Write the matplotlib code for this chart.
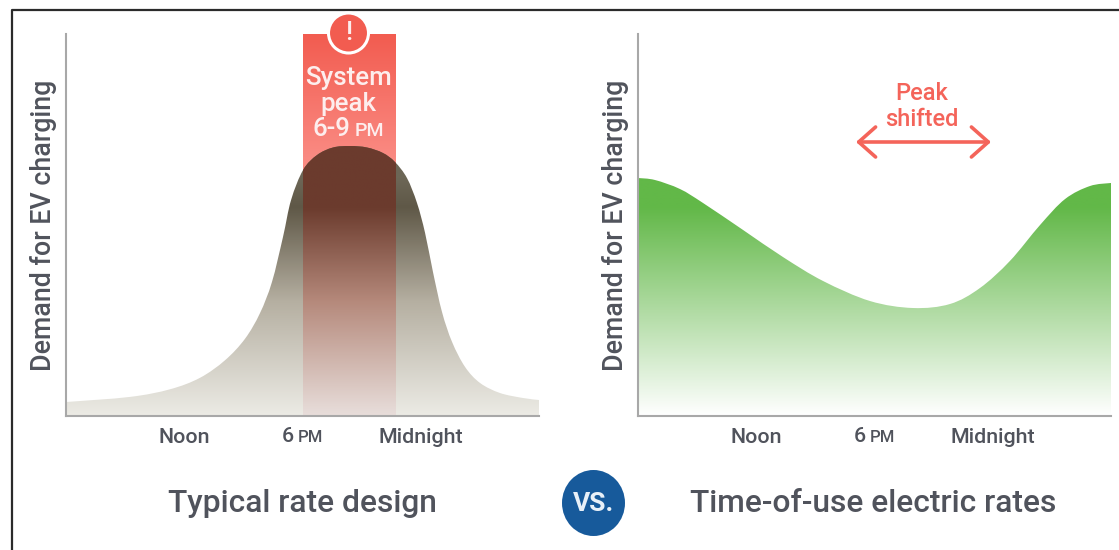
import numpy as np
import matplotlib
matplotlib.use("Agg")
import matplotlib.pyplot as plt
from matplotlib.path import Path
from matplotlib.patches import PathPatch, Circle, Ellipse, FancyArrowPatch
from matplotlib.colors import LinearSegmentedColormap

plt.rcParams['font.family'] = ['Roboto', 'DejaVu Sans']

# Hour of day (6 = 6 AM, 30 = 6 AM next day), demand (% of axis)
typical_hours = [6, 9.25, 11.28, 12.8, 14.07, 15.08, 15.84, 16.45, 17.01, 17.42, 18.03, 18.74, 19.55,
                 20.41, 21.27, 22.08, 22.69, 23.3, 23.81, 24.22, 24.62, 25.08, 25.59, 26.25, 27.01,
                 28.02, 29.19, 30]
typical_demand = [3.66, 5.0, 7.0, 10.0, 14.6, 20.2, 26.9, 35.08, 46.86, 56.54, 64.4, 68.32, 70.29,
                  70.68, 70.29, 68.85, 66.5, 62.3, 55.76, 47.9, 37.7, 27.2, 19.37, 12.83, 8.64,
                  6.02, 4.71, 4.19]
tou_hours = [6, 6.86, 8.13, 9.3, 11.33, 13.36, 15.39, 17.77, 19.95, 21.83, 23.35, 24.87, 26.4,
             27.67, 28.93, 30]
tou_demand = [62.3, 61.78, 59.42, 55.76, 48.7, 41.6, 35.34, 30.1, 28.27, 29.32, 33.5, 40.58, 50,
              56.8, 60.2, 61]
tick_hours = [12, 18, 24]
tick_labels = ["Noon", "6 PM", "Midnight"]
peak_start, peak_end = 18, 22.68
ylabel = "Demand for EV charging"
titles = ["Typical rate design", "Time-of-use electric rates"]

W, H = 1119, 550
TEXT = "#50535c"
fig = plt.figure(figsize=(W / 100, H / 100), dpi=100, facecolor="white")


def add_axes(l, r, t, b):
    return fig.add_axes([l / W, 1 - b / H, (r - l) / W, (b - t) / H])


def curve_path(xs, ys):
    """Smooth closed area through the read points (Catmull-Rom as Bezier segments)."""
    p = np.column_stack([xs, ys])
    verts = [p[0]]
    codes = [Path.MOVETO]
    for i in range(len(p) - 1):
        p0 = p[max(i - 1, 0)]
        p3 = p[min(i + 2, len(p) - 1)]
        verts += [p[i] + (p[i + 1] - p0) / 6, p[i + 1] - (p3 - p[i]) / 6, p[i + 1]]
        codes += [Path.CURVE4] * 3
    verts += [(xs[-1], 0), (xs[0], 0), p[0]]
    codes += [Path.LINETO, Path.LINETO, Path.CLOSEPOLY]
    return Path(np.array(verts), codes)


def gradient(ax, extent, stops, clip=None, z=1):
    cmap = LinearSegmentedColormap.from_list("g", stops)
    g = np.linspace(1, 0, 512).reshape(-1, 1)
    im = ax.imshow(g, extent=extent, cmap=cmap, aspect="auto", zorder=z,
                   vmin=0, vmax=1, interpolation="bilinear")
    if clip is not None:
        patch = PathPatch(clip, transform=ax.transData, fc="none", ec="none")
        ax.add_patch(patch)
        im.set_clip_path(patch)


def style(ax):
    ax.set_xlim(6, 30)
    ax.set_ylim(0, 100)
    for s in ("top", "right"):
        ax.spines[s].set_visible(False)
    for s in ("left", "bottom"):
        ax.spines[s].set_color("#a8a8a8")
        ax.spines[s].set_linewidth(1.5)
        ax.spines[s].set_zorder(3)
    ax.set_yticks([])
    ax.set_xticks(tick_hours)
    ax.set_xticklabels(tick_labels, fontsize=15.4, color=TEXT, fontweight="medium")
    ax.tick_params(axis="x", length=0, pad=8.5)
    # the "6 PM" label is redrawn in the overlay with a small-cap PM
    ax.get_xticklabels()[1].set_alpha(0)
    ax.set_ylabel(ylabel, fontsize=19.3, color=TEXT, fontweight="medium")
    ax.yaxis.set_label_coords(-0.018, 0.5)


ax1 = add_axes(66, 539, 34, 416)
ax2 = add_axes(638, 1111, 34, 416)
style(ax1)
style(ax2)

p1 = curve_path(typical_hours, typical_demand)
gradient(ax1, (6, 30, 0, 100),
         [(0, "#ecebe5"), (0.3, "#b5afa1"), (0.547, "#5f5847"), (0.62, "#6c6656"), (1, "#6c6656")], clip=p1)
gradient(ax1, (peak_start, peak_end, 0, 100),
         [(0, "#fa8a82"), (0.68, "#fa8a82"), (1, "#f25c50")], z=0.5)
gradient(ax1, (peak_start, peak_end, 0, 100),
         [(0, "#e8dedb"), (0.3, "#b5897b"), (0.547, "#6b3b2d"), (1, "#6e3b2e")], clip=p1, z=2)

p2 = curve_path(tou_hours, tou_demand)
gradient(ax2, (6, 30, 0, 100),
         [(0, "#ffffff"), (0.547, "#62b848"), (1, "#62b848")], clip=p2)
for a in (ax1, ax2):
    a.set_xlim(6, 30)
    a.set_ylim(0, 100)

# overlay in pixel coordinates for annotations
ov = fig.add_axes([0, 0, 1, 1], facecolor="none")
ov.set_xlim(0, W)
ov.set_ylim(H, 0)
ov.axis("off")

# outer frame
ov.plot([11.5, 11.5, W], [H, 9.5, 9.5], color="#2b2b2b", lw=1.6, solid_capstyle="butt")

# alert badge
ov.add_patch(Circle((348.5, 33), 20, fc="#f25c50", ec="white", lw=2.2, zorder=5))
ov.text(348.5, 33, "!", color="#fdeeee", fontsize=19, ha="center", va="center", zorder=6, fontweight="medium")
white = dict(color="#fdeeee", ha="center", va="center", zorder=6, fontweight="medium")
ov.text(348.5, 78, "System", fontsize=18.6, **white)
ov.text(348.5, 104, "peak", fontsize=18.6, **white)
ov.text(331, 129, "6-9", fontsize=18.6, **white)
ov.text(369, 131, "PM", fontsize=14, **white)

# right annotation
red = "#f4645a"
ov.text(922, 94, "Peak", fontsize=17, color=red, ha="center", va="center", fontweight="medium")
ov.text(922, 119, "shifted", fontsize=17, color=red, ha="center", va="center", fontweight="medium")
ov.add_patch(FancyArrowPatch((856, 142), (991, 142), arrowstyle="<->,head_length=9,head_width=8",
                             mutation_scale=1.35, color=red, lw=2.6, shrinkA=0, shrinkB=0))

# "6 PM" tick labels with small-cap PM
for dx in (0, 572):
    ov.text(282 + dx, 436.5, "6", fontsize=15.4, color=TEXT, va="center", fontweight="medium")
    ov.text(297.5 + dx, 437.5, "PM", fontsize=12, color=TEXT, va="center", fontweight="medium")

# titles
ov.text(302, 504, titles[0], fontsize=22.9, color=TEXT, ha="center", va="center", fontweight="medium")
ov.text(873.5, 504, titles[1], fontsize=22.9, color=TEXT, ha="center", va="center", fontweight="medium")

# vs badge
ov.add_patch(Ellipse((593.5, 503), 63, 66, fc="#175a9b", ec="none"))
ov.text(594, 504, "VS.", fontsize=19, color="#e8f0f8", ha="center", va="center", fontweight="bold")

fig.savefig("out.png", dpi=100)
